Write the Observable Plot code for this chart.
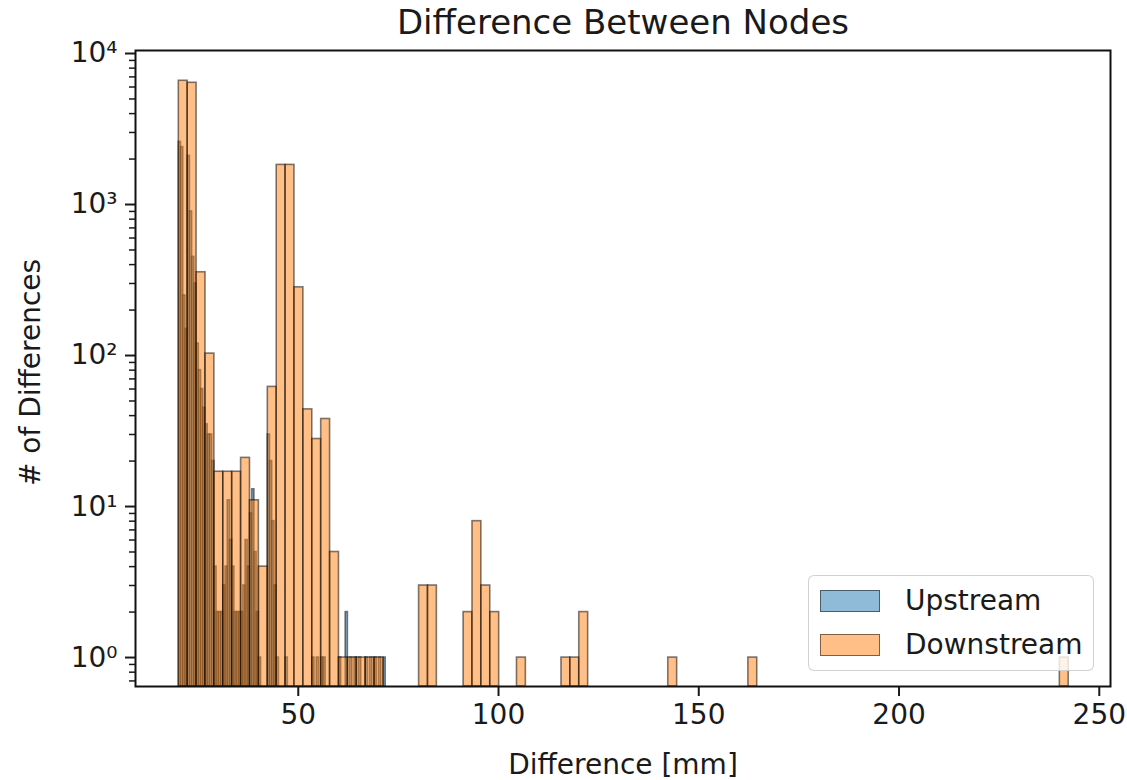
<!DOCTYPE html>
<html><head><meta charset="utf-8">
<script src="https://cdn.jsdelivr.net/npm/d3@7"></script>
<script src="https://cdn.jsdelivr.net/npm/@observablehq/plot@0.6"></script>
<style>
body{margin:0;background:#fff;font-family:"DejaVu Sans",sans-serif;}
#wrap{position:relative;width:1127px;height:780px;}
.legend{position:absolute;left:808px;top:575px;width:286px;height:96px;border:1.5px solid rgba(204,204,204,0.9);border-radius:6px;background:rgba(255,255,255,0.8);box-sizing:border-box;}
.item{position:absolute;left:11px;height:22px;display:flex;align-items:center;}
.sw{width:60px;height:22px;box-sizing:border-box;border:1.6px solid rgba(0,0,0,0.5);}
.lab{margin-left:25px;font-size:28px;color:#1a1a1a;line-height:22px;}
</style></head><body><div id="wrap"></div>
<script>
const title = "Difference Between Nodes";
const xLabel = "Difference [mm]";
const yLabel = "# of Differences";
const seriesNames = ["Upstream", "Downstream"];
const seriesColors = ["#1f77b4", "#ff7f0e"];
const xTicks = [50, 100, 150, 200, 250];
const yTicks = [1, 10, 100, 1000, 10000];
const yTickLabels = ["10⁰", "10¹", "10²", "10³", "10⁴"];

// Downstream histogram: 100 bins
const downStart = 20.17, downWidth = 2.222;
const downCounts = [
  6600, 6400, 356, 103, 17, 17, 17, 21, 11, 4,
  62, 1830, 1830, 283, 44, 28, 38, 5, 1, 1,
  1, 1, 1, 0, 0, 0, 0, 3, 3, 0,
  0, 0, 2, 8, 3, 2, 0, 0, 1, 0,
  0, 0, 0, 1, 1, 2, 0, 0, 0, 0,
  0, 0, 0, 0, 0, 1, 0, 0, 0, 0,
  0, 0, 0, 0, 1, 0, 0, 0, 0, 0,
  0, 0, 0, 0, 0, 0, 0, 0, 0, 0,
  0, 0, 0, 0, 0, 0, 0, 0, 0, 0,
  0, 0, 0, 0, 0, 0, 0, 0, 0, 1
];

// Upstream histogram: narrow bins
const upStart = 20.17, upWidth = 0.5555;
const upCounts = [
  2600, 2400, 250, 150, 2100, 900, 450, 300, 120, 80,
  60, 45, 35, 30, 30, 20, 4, 2, 2, 2,
  3, 4, 11, 6, 4, 2, 2, 2, 2, 3,
  6, 4, 9, 13, 5, 2, 1, 0, 0, 0,
  30, 20, 8, 3, 1, 0, 0, 0, 1, 0,
  0, 0, 0, 0, 0, 0, 0, 0, 0, 0,
  1, 0, 1, 0, 1, 1, 0, 0, 0, 0,
  0, 0, 1, 0, 0, 2, 0, 1, 0, 1,
  0, 1, 0, 0, 1, 0, 1, 0, 1, 0,
  1, 0, 1
];

const xDomain = [9.36, 252.8];
const yDomain = [0.643, 10470];

const toBars = (counts, start, width) =>
  counts.map((c, i) => ({x1: start + i * width, x2: start + (i + 1) * width, y1: yDomain[0], y2: c}))
        .filter(d => d.y2 > 0);
const up = toBars(upCounts, upStart, upWidth);
const down = toBars(downCounts, downStart, downWidth);

const minors = [];
for (let e = -1; e <= 4; e++) for (let m = 2; m <= 9; m++) {
  const v = m * Math.pow(10, e);
  if (v > yDomain[0] && v < yDomain[1]) minors.push(v);
}

const barStyle = {x1: "x1", x2: "x2", y1: "y1", y2: "y2", fillOpacity: 0.5, stroke: "black", strokeOpacity: 0.5, strokeWidth: 1.6};

const chart = Plot.plot({
  width: 1127, height: 780,
  marginLeft: 135, marginRight: 17, marginTop: 50, marginBottom: 94,
  style: {fontFamily: "DejaVu Sans", fontSize: "28px", color: "#1a1a1a", background: "white"},
  x: {domain: xDomain},
  y: {type: "log", domain: yDomain},
  marks: [
    Plot.rectY(up, {...barStyle, fill: seriesColors[0]}),
    Plot.rectY(down, {...barStyle, fill: seriesColors[1]}),
    Plot.axisX({ticks: xTicks, tickSize: 10, tickPadding: 8, fontSize: 28, strokeWidth: 2, tickFormat: d => String(d), label: null}),
    Plot.axisY({ticks: yTicks, tickSize: 10, tickPadding: 8, fontSize: 28, strokeWidth: 2, tickFormat: d => yTickLabels[yTicks.indexOf(d)], label: null}),
    Plot.axisY({ticks: minors, tickSize: 6, strokeWidth: 1.5, tickFormat: () => "", label: null}),
    Plot.frame({stroke: "#111", strokeWidth: 2}),
    Plot.text([title], {text: d => d, frameAnchor: "top", dy: -27, fontSize: 34, lineAnchor: "middle", fill: "#1a1a1a"}),
    Plot.text([xLabel], {text: d => d, frameAnchor: "bottom", dy: 79, fontSize: 28, lineAnchor: "middle", fill: "#1a1a1a"}),
    Plot.text([yLabel], {text: d => d, frameAnchor: "left", textAnchor: "middle", dx: -104, dy: 4, rotate: -90, fontSize: 28, lineAnchor: "middle", fill: "#1a1a1a"})
  ]
});
const wrap = document.getElementById("wrap");
wrap.appendChild(chart);

const legend = document.createElement("div");
legend.className = "legend";
const fills = ["rgba(31,119,180,0.5)", "rgba(255,127,14,0.5)"];
seriesNames.forEach((name, i) => {
  const item = document.createElement("div");
  item.className = "item";
  item.style.top = (i === 0 ? 14 : 58) + "px";
  const sw = document.createElement("div");
  sw.className = "sw";
  sw.style.background = fills[i];
  const lab = document.createElement("span");
  lab.className = "lab";
  lab.textContent = name;
  item.appendChild(sw); item.appendChild(lab);
  legend.appendChild(item);
});
wrap.appendChild(legend);
</script></body></html>
